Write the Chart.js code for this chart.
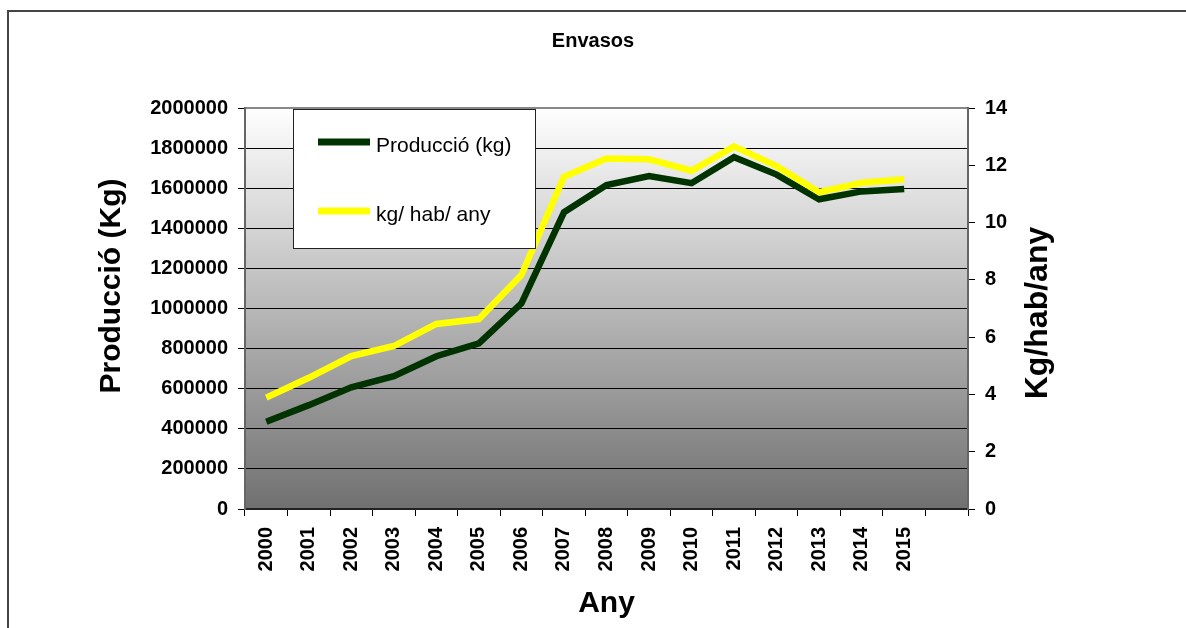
<!DOCTYPE html>
<html>
<head>
<meta charset="utf-8">
<title>Envasos</title>
<script src="https://cdn.jsdelivr.net/npm/chart.js@4/dist/chart.umd.min.js"></script>
<style>
  body { margin: 0; background: #ffffff; }
  #wrap { position: relative; width: 1186px; height: 628px; overflow: hidden; }
  #frame {
    position: absolute; left: 7px; top: 10px; width: 1300px; height: 700px;
    border-left: 2px solid #444; border-top: 2px solid #444; pointer-events: none;
  }
</style>
</head>
<body>
<div id="wrap">
  <canvas id="envasosChart" width="1186" height="628"></canvas>
  <div id="frame"></div>
</div>
<script>
const years = ["2000", "2001", "2002", "2003", "2004", "2005", "2006", "2007",
  "2008", "2009", "2010", "2011", "2012", "2013", "2014", "2015", ""];

const produccio = [435000, 518000, 607000, 662000, 762000, 826000, 1026000, 1480000,
  1616000, 1661000, 1625000, 1755000, 1668000, 1545000, 1584000, 1596000];

const kgHabAny = [3.89, 4.58, 5.34, 5.69, 6.46, 6.63, 8.17, 11.60,
  12.24, 12.21, 11.81, 12.66, 11.97, 11.06, 11.39, 11.51];

const leftTicks = { min: 0, max: 2000000, step: 200000 };
const rightTicks = { min: 0, max: 14, step: 2 };

const fontFamily = "'Liberation Sans', Arial, sans-serif";

// gradient behind the plot + grey top edge
const plotBackground = {
  id: "plotBackground",
  beforeDraw(chart) {
    const { ctx, chartArea } = chart;
    const grad = ctx.createLinearGradient(0, chartArea.top, 0, chartArea.bottom);
    grad.addColorStop(0, "#ffffff");
    grad.addColorStop(1, "#707070");
    ctx.save();
    ctx.fillStyle = grad;
    ctx.fillRect(chartArea.left, chartArea.top, chartArea.right - chartArea.left, chartArea.bottom - chartArea.top);
    ctx.strokeStyle = "#888888";
    ctx.lineWidth = 2;
    ctx.beginPath();
    ctx.moveTo(chartArea.left, chartArea.top);
    ctx.lineTo(chartArea.right, chartArea.top);
    ctx.stroke();
    ctx.restore();
  }
};

// rotated titles of both value axes (both read bottom to top)
function drawSideTitle(ctx, text, size, cx, cy) {
  ctx.save();
  ctx.fillStyle = "#000";
  ctx.textAlign = "center";
  ctx.textBaseline = "middle";
  ctx.font = `bold ${size}px ${fontFamily}`;
  ctx.translate(cx, cy);
  ctx.rotate(-Math.PI / 2);
  ctx.fillText(text, 0, 0);
  ctx.restore();
}

const sideTitles = {
  id: "sideTitles",
  afterDraw(chart) {
    drawSideTitle(chart.ctx, "Producció (Kg)", 30, 112, 286);
    drawSideTitle(chart.ctx, "Kg/hab/any", 32, 1038, 313);
  }
};

// boxed legend sitting inside the plot
const boxLegend = {
  id: "boxLegend",
  afterDraw(chart) {
    const { ctx, chartArea } = chart;
    const x = chartArea.left + 48;
    const y = chartArea.top + 1;
    const w = 242;
    const h = 139;

    ctx.save();
    ctx.fillStyle = "#ffffff";
    ctx.fillRect(x, y, w, h);
    ctx.strokeStyle = "#222";
    ctx.lineWidth = 1;
    ctx.strokeRect(x + 0.5, y + 0.5, w, h);

    const rows = [33, 102];
    chart.data.datasets.forEach((ds, i) => {
      const rowY = y + rows[i];
      ctx.strokeStyle = ds.borderColor;
      ctx.lineWidth = 7;
      ctx.beginPath();
      ctx.moveTo(x + 25, rowY);
      ctx.lineTo(x + 77, rowY);
      ctx.stroke();

      ctx.fillStyle = "#000";
      ctx.font = `21px ${fontFamily}`;
      ctx.textAlign = "left";
      ctx.textBaseline = "middle";
      ctx.fillText(ds.label, x + 83, rowY + 4);
    });
    ctx.restore();
  }
};

const chartElement = document.getElementById("envasosChart");

new Chart(chartElement, {
  type: "line",
  data: {
    labels: years,
    datasets: [
      {
        label: "Producció (kg)",
        data: produccio,
        yAxisID: "y",
        borderColor: "#003300",
        borderWidth: 6.5,
        pointRadius: 0,
        tension: 0,
        borderJoinStyle: "miter",
        order: 1
      },
      {
        label: "kg/ hab/ any",
        data: kgHabAny,
        yAxisID: "y1",
        borderColor: "#ffff00",
        borderWidth: 6.5,
        pointRadius: 0,
        tension: 0,
        borderJoinStyle: "miter",
        order: 0
      }
    ]
  },
  options: {
    responsive: false,
    animation: false,
    layout: { padding: 0 },
    plugins: {
      legend: { display: false },
      tooltip: { enabled: false },
      title: {
        display: true,
        text: "Envasos",
        color: "#000",
        font: { family: fontFamily, size: 20, weight: "bold", lineHeight: 1.2 },
        padding: { top: 29, bottom: 55 }
      }
    },
    scales: {
      x: {
        offset: true,
        grid: {
          offset: true,
          drawOnChartArea: false,
          drawTicks: true,
          tickLength: 7,
          color: "#000",
          tickColor: "#000"
        },
        border: { color: "#222", width: 2 },
        ticks: {
          color: "#000",
          autoSkip: false,
          minRotation: 90,
          maxRotation: 90,
          padding: 11,
          font: { family: fontFamily, size: 20, weight: "bold" }
        },
        title: {
          display: true,
          text: "Any",
          color: "#000",
          font: { family: fontFamily, size: 30, weight: "bold", lineHeight: 1.2 },
          padding: { top: 0, bottom: 6 }
        },
        afterFit(scale) {
          scale.height = 119;
        }
      },
      y: {
        position: "left",
        min: leftTicks.min,
        max: leftTicks.max,
        grid: {
          color: (c) => (c.tick && c.tick.value === leftTicks.max ? "#888888" : "#000"),
          tickColor: "#000",
          tickLength: 7,
          lineWidth: 1
        },
        border: { color: "#666", width: 2 },
        ticks: {
          stepSize: leftTicks.step,
          color: "#000",
          padding: 10,
          font: { family: fontFamily, size: 20, weight: "bold" },
          callback: (value) => String(value)
        },
        afterFit(scale) {
          scale.width = 245;
        }
      },
      y1: {
        position: "right",
        min: rightTicks.min,
        max: rightTicks.max,
        grid: {
          drawOnChartArea: false,
          tickColor: "#000",
          tickLength: 7
        },
        border: { color: "#666", width: 2 },
        ticks: {
          stepSize: rightTicks.step,
          color: "#000",
          padding: 10,
          font: { family: fontFamily, size: 20, weight: "bold" }
        },
        afterFit(scale) {
          scale.width = 218;
        }
      }
    }
  },
  plugins: [plotBackground, sideTitles, boxLegend]
});
</script>
</body>
</html>
